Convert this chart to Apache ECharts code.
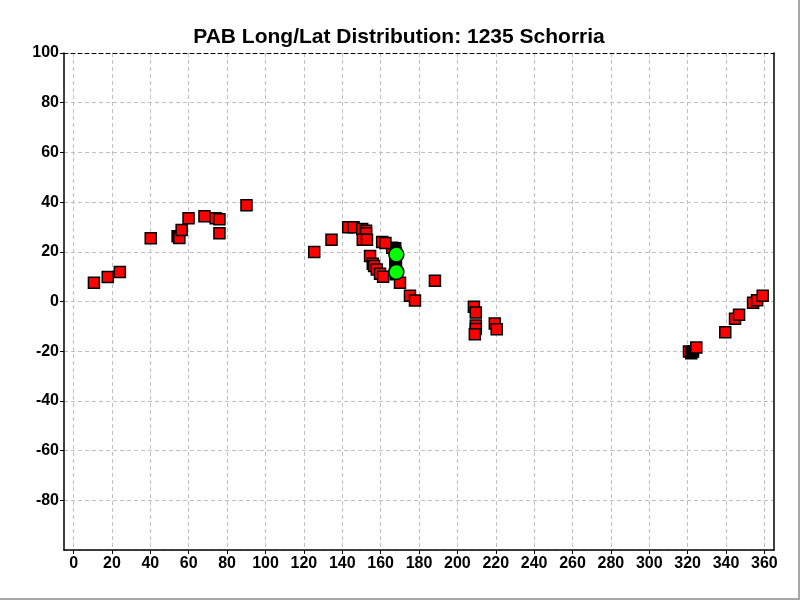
<!DOCTYPE html>
<html>
<head>
<meta charset="utf-8">
<script src="https://cdn.jsdelivr.net/npm/echarts@6/dist/echarts.min.js"></script>
<style>
  html, body { margin: 0; padding: 0; background: #fff; }
  #chart { width: 800px; height: 600px; box-sizing: border-box;
           border-right: 2px solid #a8a8a8; border-bottom: 2px solid #a8a8a8; }
</style>
</head>
<body>
<div id="chart"></div>
<script>
// PAB long/lat points
const titleText = 'PAB Long/Lat Distribution: 1235 Schorria';
const xTicks = [0, 20, 40, 60, 80, 100, 120, 140, 160, 180, 200, 220, 240, 260, 280, 300, 320, 340, 360];

// red squares drawn underneath the black ones
const redUnder = [[166.0, 21.6], [320.7, -20.1]];

// black squares
const blackPoints = [
  [54.2, 26.3],
  [167.6, 21.4], [167.9, 19.4], [167.7, 17.2], [168.0, 15.2], [167.7, 13.2], [167.9, 11.0],
  [321.9, -20.8], [322.8, -20.1]
];

// red squares
const redPoints = [
  [10.6, 7.5], [17.8, 9.9], [24.1, 11.9], [40.2, 25.5], [55.1, 25.6], [56.3, 28.8],
  [59.9, 33.5], [68.2, 34.3], [74.0, 33.5], [76.0, 33.1], [76.0, 27.5], [90.1, 38.7],
  [125.4, 19.9], [134.4, 24.8], [143.1, 29.9], [145.9, 29.9], [150.4, 29.2], [152.4, 28.5],
  [152.4, 27.5], [150.7, 24.8], [152.9, 24.8], [160.8, 23.9], [162.5, 23.5], [154.5, 18.3],
  [155.9, 15.2], [156.6, 14.3], [158.0, 12.9], [159.7, 11.2], [161.3, 10.0], [170.1, 7.5],
  [188.3, 8.3], [175.3, 2.3], [177.9, 0.4], [208.6, -2.1], [209.6, -4.4], [209.6, -9.7],
  [209.6, -11.1], [209.1, -13.2], [219.5, -8.9], [220.5, -11.2], [324.5, -18.5], [339.6, -12.4],
  [344.7, -6.9], [346.8, -5.3], [354.1, -0.5], [356.2, 0.5], [359.1, 2.3]
];

// green circles
const greenPoints = [[168.2, 18.9], [168.2, 11.9]];

const font = 'Liberation Sans, Arial, sans-serif';
const gridDash = { color: '#c0c0c0', type: [4, 3], width: 1 };

var chart = echarts.init(document.getElementById('chart'), null, { renderer: 'canvas' });

function squareSeries(data, fill) {
  return {
    type: 'scatter',
    data: data,
    symbol: 'rect',
    symbolSize: 11,
    itemStyle: { color: fill, borderColor: '#000', borderWidth: 1.5, opacity: 1 },
    emphasis: { disabled: true }
  };
}

var option = {
  animation: false,
  backgroundColor: '#fff',
  title: {
    text: titleText,
    left: 'center',
    top: 22,
    textStyle: { fontFamily: font, fontWeight: 'bold', fontSize: 21, color: '#000' }
  },
  grid: { left: 64, right: 24, top: 53, bottom: 48, containLabel: false },
  xAxis: [{
    type: 'value',
    min: -5,
    max: 365,
    axisLine: { show: true, onZero: false, lineStyle: { color: '#000', width: 1.5 } },
    axisTick: { show: true, length: 4, customValues: xTicks, lineStyle: { color: '#000' } },
    axisLabel: { customValues: xTicks, margin: 6, color: '#000', fontFamily: font, fontWeight: 'bold', fontSize: 16 },
    splitLine: { show: true, lineStyle: gridDash }
  }, {
    type: 'value',
    position: 'top',
    min: -5,
    max: 365,
    axisLine: { show: true, onZero: false, lineStyle: { color: '#000', width: 1, type: [4, 3] } },
    axisTick: { show: false },
    axisLabel: { show: false },
    splitLine: { show: false }
  }],
  yAxis: [{
    type: 'value',
    min: -100,
    max: 100,
    interval: 20,
    axisLine: { show: true, onZero: false, lineStyle: { color: '#000', width: 1.5 } },
    axisTick: { show: true, length: 4, lineStyle: { color: '#000' } },
    axisLabel: { showMinLabel: false, margin: 5, color: '#000', fontFamily: font, fontWeight: 'bold', fontSize: 16 },
    splitLine: { show: true, lineStyle: gridDash }
  }, {
    type: 'value',
    position: 'right',
    min: -100,
    max: 100,
    axisLine: { show: true, onZero: false, lineStyle: { color: '#000', width: 1.5 } },
    axisTick: { show: false },
    axisLabel: { show: false },
    splitLine: { show: false }
  }],
  series: [
    squareSeries(redUnder, '#ff0000'),
    squareSeries(blackPoints, '#000000'),
    squareSeries(redPoints, '#ff0000'),
    {
      type: 'scatter',
      data: greenPoints,
      symbol: 'circle',
      symbolSize: 15,
      itemStyle: { color: '#00ff00', borderColor: '#000', borderWidth: 1.5, opacity: 1 },
      emphasis: { disabled: true }
    }
  ]
};

chart.setOption(option);
</script>
</body>
</html>
